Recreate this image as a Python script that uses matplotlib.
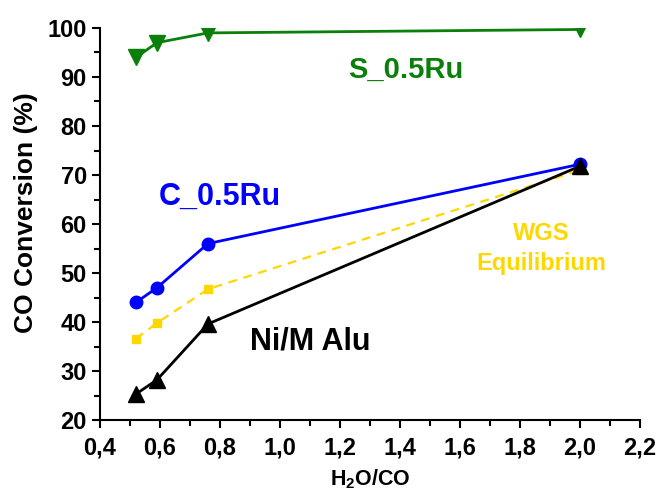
import matplotlib
matplotlib.use("Agg")
import matplotlib.pyplot as plt
from matplotlib.ticker import MultipleLocator

plt.rcParams['font.family'] = ['Liberation Sans', 'DejaVu Sans']
plt.rcParams['font.weight'] = 'bold'
plt.rcParams['mathtext.fontset'] = 'custom'
plt.rcParams['mathtext.bf'] = 'Liberation Sans:bold'
plt.rcParams['mathtext.rm'] = 'Liberation Sans:bold'

x = [0.52, 0.59, 0.76, 2.0]
s_ru = [94.0, 97.0, 99.0, 99.7]
c_ru = [44.0, 47.0, 56.0, 72.2]
wgs = [36.6, 39.8, 46.7, 71.0]
ni_alu = [25.3, 28.2, 39.6, 71.8]

fig = plt.figure(figsize=(6.58, 4.92), dpi=100)
ax = fig.add_axes([100/658, 1-420/492, 540/658, 392/492])

ax.plot(x, s_ru, color='#0a800a', lw=2, marker='v', ms=12, zorder=3)
ax.plot(x, c_ru, color='#0000ff', lw=2, marker='o', ms=9, zorder=3)
ax.plot(x, wgs, color='#ffd700', lw=1.6, ls=(0, (4, 3)), marker='s', ms=6, zorder=2)
ax.plot(x, ni_alu, color='black', lw=2, marker='^', ms=12, zorder=4)

ax.set_xlim(0.4, 2.2)
ax.set_ylim(20, 100)
ax.xaxis.set_major_locator(MultipleLocator(0.2))
ax.xaxis.set_minor_locator(MultipleLocator(0.1))
ax.yaxis.set_major_locator(MultipleLocator(10))
ax.yaxis.set_minor_locator(MultipleLocator(5))
ax.xaxis.set_major_formatter(plt.FuncFormatter(lambda v, p: f"{v:.1f}".replace('.', ',')))
ax.spines['top'].set_visible(False)
ax.spines['right'].set_visible(False)
for sp in ('left', 'bottom'):
    ax.spines[sp].set_linewidth(1.5)
ax.tick_params(which='major', direction='out', length=6, width=1.5, labelsize=17)
ax.tick_params(axis='x', which='major', pad=6)
ax.tick_params(which='minor', direction='out', length=4, width=1.5)
for lab in ax.get_xticklabels() + ax.get_yticklabels():
    lab.set_fontweight('bold')

ax.set_ylabel('CO Conversion (%)', fontsize=19, fontweight='bold')
ax.yaxis.set_label_coords(-0.115, 0.53)
ax.set_xlabel('H$_\\mathbf{2}$O/CO', fontsize=15.5, fontweight='bold')
ax.xaxis.set_label_coords(0.5, -0.122)

ax.text(1.42, 91.5, 'S_0.5Ru', color='#0a800a', fontsize=21, fontweight='bold', ha='center', va='center')
ax.text(0.80, 65.5, 'C_0.5Ru', color='#0000ff', fontsize=22, fontweight='bold', ha='center', va='center')
ax.text(1.10, 36.0, 'Ni/M Alu', color='black', fontsize=22, fontweight='bold', ha='center', va='center')
ax.text(1.87, 55.0, 'WGS\nEquilibrium', color='#ffd700', fontsize=17, fontweight='bold', ha='center', va='center', linespacing=1.35)

fig.savefig('out.png', dpi=100)
